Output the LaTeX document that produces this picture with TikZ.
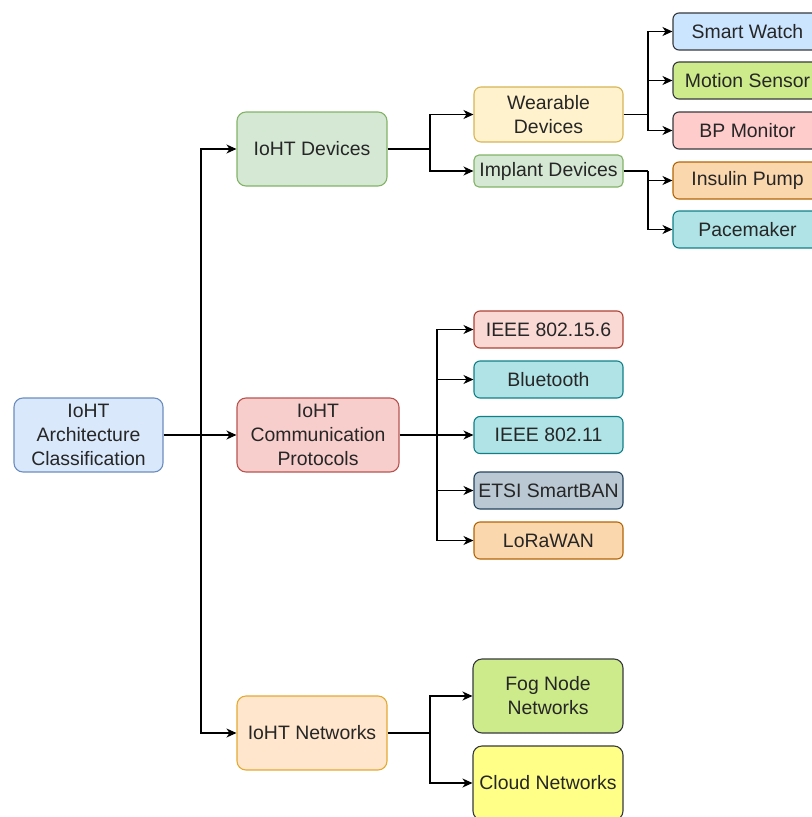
\documentclass[tikz,border=0pt]{standalone}
\usepackage{fontspec}
\setmainfont{Liberation Sans}
\usetikzlibrary{arrows.meta}
\definecolor{txt}{HTML}{262626}
\definecolor{fBlue}{HTML}{DAE8FC}\definecolor{sBlue}{HTML}{6C8EBF}
\definecolor{fGreen}{HTML}{D5E8D4}\definecolor{sGreen}{HTML}{82B366}
\definecolor{fRed}{HTML}{F8CECC}\definecolor{sRed}{HTML}{B85450}
\definecolor{fOrange}{HTML}{FFE6CC}\definecolor{sOrange}{HTML}{E4AA32}
\definecolor{fYellow}{HTML}{FFF2CC}\definecolor{sYellow}{HTML}{D6B656}
\definecolor{sGray}{HTML}{36393D}
\definecolor{fSky}{HTML}{CCE5FF}
\definecolor{fLime}{HTML}{CDEB8B}
\definecolor{fPink}{HTML}{FFCCCC}
\definecolor{fPeach}{HTML}{FAD7AC}\definecolor{sPeach}{HTML}{B46504}
\definecolor{fTeal}{HTML}{B0E3E6}\definecolor{sTeal}{HTML}{0E8088}
\definecolor{fRose}{HTML}{FAD9D5}\definecolor{sRose}{HTML}{AE4132}
\definecolor{fSlate}{HTML}{BAC8D3}\definecolor{sSlate}{HTML}{23445D}
\definecolor{fLemon}{HTML}{FFFF88}
\tikzset{
  box/.style={draw, rounded corners=9bp, line width=1.1bp, inner sep=0pt, align=center,
    text=txt, font=\fontsize{19.5}{24}\selectfont, minimum width=149bp, minimum height=74bp},
  sbox/.style={box, rounded corners=6bp, minimum height=37bp},
  arr/.style={-{Stealth[length=10bp,width=9bp,inset=3bp]}, line width=1.1bp},
  ln/.style={line width=1.1bp},
}
\begin{document}
\begin{tikzpicture}[x=1bp,y=-1bp]
\useasboundingbox (0,0) rectangle (812,817);
\begin{scope}
\clip (0,0) rectangle (812,817);
% level 0 / 1
\node[box, fill=fBlue, draw=sBlue] (root) at (88.5,435) {IoHT\\Architecture\\Classification};
\node[box, minimum width=150bp, fill=fGreen, draw=sGreen] (dev) at (312,149) {IoHT Devices};
\node[box, minimum width=162bp, fill=fRed, draw=sRed] (comm) at (318,435) {IoHT\\Communication\\Protocols};
\node[box, minimum width=150bp, fill=fOrange, draw=sOrange] (net) at (312,733) {IoHT Networks};
% devices
\node[box, minimum height=55bp, rounded corners=7bp, fill=fYellow, draw=sYellow] (wear) at (548.5,114.5) {Wearable\\Devices};
\node[box, minimum height=32bp, rounded corners=5bp, fill=fGreen, draw=sGreen] (impl) at (548.5,171) {Implant Devices};
\node[sbox, fill=fSky, draw=sGray] (sw) at (747.5,31.5) {Smart Watch};
\node[sbox, fill=fLime, draw=sGray] (ms) at (747.5,80.5) {Motion Sensor};
\node[sbox, fill=fPink, draw=sGray] (bp) at (747.5,130.5) {BP Monitor};
\node[sbox, fill=fPeach, draw=sPeach] (ip) at (747.5,180.5) {Insulin Pump};
\node[sbox, fill=fTeal, draw=sTeal] (pm) at (747.5,229.5) {Pacemaker};
% protocols
\node[sbox, fill=fRose, draw=sRose] (p1) at (548.5,329.5) {IEEE 802.15.6};
\node[sbox, fill=fTeal, draw=sTeal] (p2) at (548.5,379.5) {Bluetooth};
\node[sbox, fill=fTeal, draw=sTeal] (p3) at (548.5,435) {IEEE 802.11};
\node[sbox, fill=fSlate, draw=sSlate] (p4) at (548.5,490.5) {ETSI SmartBAN};
\node[sbox, fill=fPeach, draw=sPeach] (p5) at (548.5,540.5) {LoRaWAN};
% networks
\node[box, minimum width=150bp, fill=fLime, draw=sGray] (fog) at (548,696) {Fog Node\\Networks};
\node[box, minimum width=150bp, fill=fLemon, draw=sGray] (cloud) at (548,783) {Cloud Networks};
% junctions
\coordinate (j1) at (201,435);
\coordinate (j2) at (430,149);
\coordinate (j3) at (648,114.5);
\coordinate (j4) at (648,171);
\coordinate (j5) at (437,435);
\coordinate (j6) at (430,733);
% connectors
\draw[arr] (root) -- (comm);
\draw[arr] (j1) |- (dev);
\draw[arr] (j1) |- (net);
\draw[ln] (dev) -- (j2);
\draw[arr] (j2) |- (wear);
\draw[arr] (j2) |- (impl);
\draw[ln] (wear) -- (j3);
\draw[arr] (j3) |- (sw);
\draw[arr] (j3) |- (ms);
\draw[arr] (j3) |- (bp);
\draw[ln] (impl) -- (j4);
\draw[arr] (j4) |- (ip);
\draw[arr] (j4) |- (pm);
\draw[arr] (comm) -- (p3);
\draw[arr] (j5) |- (p1);
\draw[arr] (j5) |- (p2);
\draw[arr] (j5) |- (p4);
\draw[arr] (j5) |- (p5);
\draw[ln] (net) -- (j6);
\draw[arr] (j6) |- (fog);
\draw[arr] (j6) |- (cloud);
\end{scope}
\end{tikzpicture}
\end{document}
